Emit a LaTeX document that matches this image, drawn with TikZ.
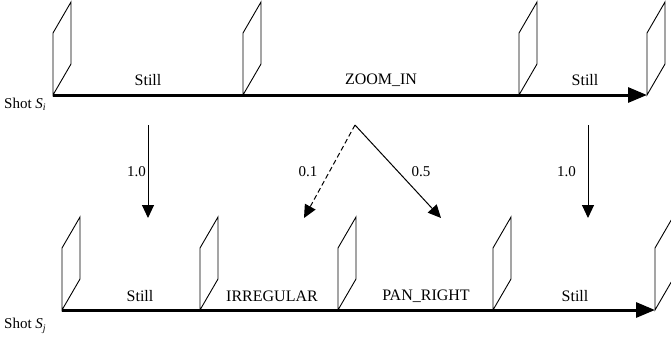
\documentclass[tikz,border=0pt]{standalone}
\usepackage{fontspec}
\setmainfont{Liberation Serif}
\usetikzlibrary{arrows.meta}
\tikzset{
  frame/.style={draw=black, line width=0.9pt, line join=miter},
  axisline/.style={line width=3pt, -{Triangle[length=19pt,width=15pt]}},
  probarrow/.style={line width=1pt, -{Triangle[length=13pt,width=12pt]}},
  lbl/.style={font=\fontsize{16}{19}\selectfont, inner sep=0pt},
  num/.style={font=\fontsize{15}{18}\selectfont, inner sep=0pt}
}
\newcommand{\shotframe}[2]{%
  \draw[frame] (#1,#2) -- (#1,#2-62) -- (#1+18,#2-93) -- (#1+18,#2-31) -- cycle;}
\newcommand{\shotlabel}[1]{Shot {\itshape S}\raisebox{-0.35ex}{\fontsize{10}{12}\selectfont\itshape #1}}
\begin{document}
\begin{tikzpicture}[x=1pt,y=-1pt]
\useasboundingbox (0,0) rectangle (671,341);
% top row
\coordinate (ta) at (53,95);
\coordinate (tb) at (647,95);
\shotframe{53}{95}
\shotframe{243}{95}
\shotframe{519}{95}
\shotframe{647}{95}
\draw[axisline] (ta) -- (tb);
\node[lbl] (t1) at (148,80) {Still};
\node[lbl] (t2) at (381,80) {ZOOM\_IN};
\node[lbl] (t3) at (585,80) {Still};
\node[num, anchor=west] (si) at (4,104) {\shotlabel{i}};
% bottom row
\coordinate (ba) at (62,310);
\coordinate (bb) at (655,310);
\shotframe{62}{310}
\shotframe{200}{310}
\shotframe{338}{310}
\shotframe{493}{310}
\shotframe{655}{310}
\draw[axisline] (ba) -- (bb);
\node[lbl] (b1) at (140,296) {Still};
\node[lbl] (b2) at (272,296) {IRREGULAR};
\node[lbl] (b3) at (426,296) {PAN\_RIGHT};
\node[lbl] (b4) at (575,296) {Still};
\node[num, anchor=west] (sj) at (4,326) {\shotlabel{j}};
% transition arrows
\coordinate (a1s) at (148,125);
\coordinate (a1e) at (148,218);
\coordinate (a2s) at (588,125);
\coordinate (a2e) at (588,218);
\coordinate (apex) at (355,125);
\coordinate (dl) at (304,218);
\coordinate (dr) at (441,218);
\draw[probarrow] (a1s) -- (a1e);
\draw[probarrow] (a2s) -- (a2e);
\draw[probarrow, dashed, dash pattern=on 5pt off 3pt] (apex) -- (dl);
\draw[probarrow] (apex) -- (dr);
\node[num, anchor=east] (n1) at (146,172) {1.0};
\node[num, anchor=east] (n2) at (576,172) {1.0};
\node[num] (n3) at (308,172) {0.1};
\node[num] (n4) at (421,172) {0.5};
\end{tikzpicture}
\end{document}
